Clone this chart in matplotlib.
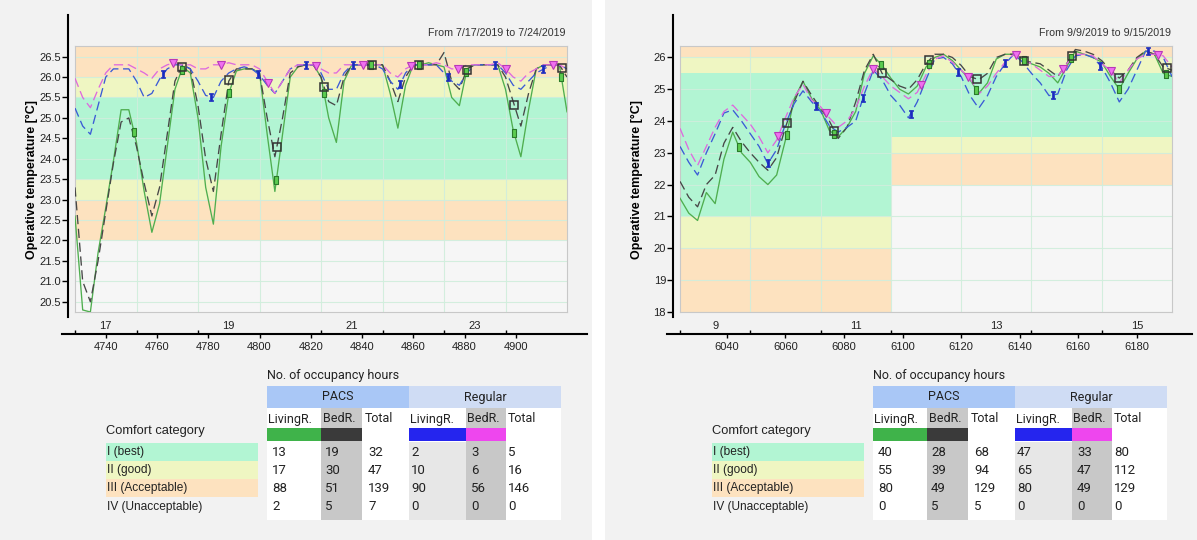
import numpy as np
import matplotlib.pyplot as plt
from matplotlib import transforms
from matplotlib.patches import Rectangle
from matplotlib.path import Path

plt.rcParams['font.family'] = ['Liberation Sans', 'DejaVu Sans']
TABLE_FONT = ['Roboto', 'DejaVu Sans']

W, H = 1197, 540

# ---------------- data ----------------
# July week (hour of year, 3-hourly readings)
jul_hours = np.arange(4728, 4921, 3)
jul_pacs_living = [22.6, 20.3, 20.25, 21.7, 22.8, 23.95, 25.2, 25.2, 24.4, 23.2,
                   22.2, 22.9, 24.3, 25.7, 26.25, 26.1, 25.0, 23.3, 22.4, 24.3,
                   25.6, 26.15, 26.2, 26.2, 26.1, 24.6, 23.2, 24.6, 26.0, 26.25,
                   26.3, 26.3, 26.0, 25.0, 24.4, 25.9, 26.3, 26.3, 26.3, 26.3,
                   26.3, 25.6, 24.75, 25.8, 26.3, 26.3, 26.35, 26.3, 26.25, 25.5,
                   25.3, 26.2, 26.3, 26.3, 26.3, 26.3, 25.7, 24.7, 24.05, 25.2,
                   26.2, 26.3, 26.3, 26.3, 25.15]
jul_pacs_bed = [23.3, 21.0, 20.5, 21.5, 22.7, 23.9, 24.9, 25.0, 24.3, 23.4,
                22.6, 23.3, 24.6, 25.9, 26.3, 26.2, 25.3, 24.0, 23.2, 24.6,
                25.9, 26.2, 26.2, 26.2, 26.1, 25.0, 24.05, 25.0, 26.1, 26.25,
                26.3, 26.3, 26.0, 25.4, 25.3, 26.0, 26.3, 26.3, 26.3, 26.3,
                26.3, 25.9, 25.4, 26.0, 26.3, 26.3, 26.3, 26.3, 26.6, 25.9,
                25.7, 26.2, 26.3, 26.3, 26.3, 26.3, 26.0, 25.4, 24.8, 25.6,
                26.2, 26.3, 26.3, 26.3, 26.0]
jul_reg_living = [25.24, 24.8, 24.6, 25.3, 26.0, 26.2, 26.2, 26.2, 25.9, 25.5,
                  25.6, 25.95, 26.2, 26.3, 26.3, 26.2, 25.9, 25.55, 25.5, 25.9,
                  26.1, 26.2, 26.25, 26.2, 26.05, 25.8, 25.6, 25.9, 26.2, 26.3,
                  26.3, 26.3, 26.1, 25.7, 25.7, 26.1, 26.3, 26.3, 26.3, 26.3,
                  26.2, 25.9, 25.7, 26.1, 26.3, 26.3, 26.3, 26.3, 26.1, 25.9,
                  25.8, 26.1, 26.3, 26.3, 26.3, 26.3, 26.1, 25.8, 25.7, 25.9,
                  26.1, 26.2, 26.3, 26.3, 26.2]
jul_reg_bed = [25.97, 25.5, 25.25, 25.7, 26.1, 26.3, 26.3, 26.3, 26.2, 26.1,
               25.97, 26.2, 26.3, 26.35, 26.3, 26.3, 26.2, 26.2, 26.3, 26.3,
               26.35, 26.3, 26.3, 26.3, 26.2, 25.9, 25.6, 25.9, 26.2, 26.3,
               26.3, 26.3, 26.2, 26.1, 26.1, 26.3, 26.3, 26.3, 26.3, 26.3,
               26.3, 26.1, 26.0, 26.2, 26.3, 26.3, 26.3, 26.35, 26.3, 26.2,
               26.2, 26.3, 26.3, 26.3, 26.3, 26.35, 26.2, 26.0, 25.9, 26.1,
               26.2, 26.3, 26.3, 26.3, 26.2]

# September week
sep_hours = np.arange(6024, 6193, 3)
sep_pacs_living = [21.57, 21.1, 20.87, 21.75, 21.4, 22.8, 23.65, 23.0, 22.7, 22.25,
                   22.0, 22.3, 23.4, 24.7, 25.25, 24.7, 24.35, 23.7, 23.5, 23.8,
                   24.3, 25.5, 26.05, 25.75, 25.35, 25.0, 24.85, 25.1, 25.7, 26.0,
                   26.1, 25.9, 25.6, 25.3, 24.87, 25.2, 25.95, 26.1, 26.1, 25.95,
                   25.8, 25.7, 25.5, 25.2, 25.7, 26.2, 26.1, 26.0, 25.85, 25.4,
                   25.0, 25.5, 25.95, 26.2, 26.1, 25.5, 25.4]
sep_pacs_bed = [22.1, 21.6, 21.3, 22.0, 22.3, 23.3, 23.8, 23.35, 23.0, 22.7,
                22.45, 22.85, 23.8, 24.6, 25.25, 24.8, 24.4, 24.0, 23.45, 23.8,
                24.6, 25.6, 26.1, 25.5, 25.3, 25.1, 25.0, 25.3, 25.8, 26.1,
                26.1, 26.0, 25.75, 25.4, 25.3, 25.5, 26.0, 26.1, 26.1, 25.9,
                25.85, 25.8, 25.6, 25.4, 25.8, 26.25, 26.2, 26.1, 25.9, 25.6,
                25.35, 25.6, 26.0, 26.2, 26.1, 25.7, 25.6]
sep_reg_living = [23.2, 22.7, 22.3, 23.0, 23.6, 24.25, 24.35, 24.0, 23.6, 23.2,
                  22.66, 23.1, 23.9, 24.55, 24.95, 24.6, 24.3, 23.85, 23.65, 23.8,
                  24.0, 24.87, 25.6, 25.3, 24.8, 24.5, 24.1, 24.6, 25.3, 25.95,
                  26.0, 25.8, 25.4, 24.8, 24.4, 24.8, 25.4, 25.8, 26.1, 25.85,
                  25.5, 25.2, 24.8, 24.85, 25.6, 26.05, 26.1, 26.0, 25.7, 25.2,
                  24.6, 25.0, 25.6, 26.2, 26.2, 26.0, 25.4]
sep_reg_bed = [23.77, 23.1, 22.6, 23.2, 23.8, 24.3, 24.5, 24.2, 23.9, 23.5,
               23.0, 23.4, 24.1, 24.75, 25.15, 24.65, 24.45, 24.1, 23.8, 24.0,
               24.4, 25.1, 25.65, 25.4, 25.1, 24.9, 24.7, 24.9, 25.45, 25.95,
               26.05, 25.85, 25.6, 25.35, 24.85, 25.1, 25.5, 25.85, 26.1, 25.95,
               25.8, 25.6, 25.4, 25.4, 25.8, 26.1, 26.1, 26.05, 25.8, 25.6,
               25.2, 25.6, 25.95, 26.1, 26.1, 26.05, 25.7]

# comfort bands: (from hour, to hour, [(low, high, category), ...])
jul_bands = [(4728, 4920, [(23.5, 25.5, 'I'), (23.0, 23.5, 'II'), (25.5, 26.0, 'II'),
                           (22.0, 23.0, 'III'), (26.0, 27.0, 'III')])]
sep_bands = [(6024, 6096, [(21.0, 25.5, 'I'), (20.0, 21.0, 'II'), (25.5, 26.0, 'II'),
                           (17.0, 20.0, 'III'), (26.0, 27.0, 'III')]),
             (6096, 6192, [(23.5, 25.5, 'I'), (23.0, 23.5, 'II'), (25.5, 26.0, 'II'),
                           (22.0, 23.0, 'III'), (26.0, 27.0, 'III')])]

jul_day_starts = [4728, 4752, 4776, 4800, 4824, 4848, 4872, 4896]
jul_day_labels = {4740: '17', 4788: '19', 4836: '21', 4884: '23'}
jul_hour_ticks = [4740, 4760, 4780, 4800, 4820, 4840, 4860, 4880, 4900]
sep_day_starts = [6024, 6048, 6072, 6096, 6120, 6144, 6168]
sep_day_labels = {6036: '9', 6084: '11', 6132: '13', 6180: '15'}
sep_hour_ticks = [6040, 6060, 6080, 6100, 6120, 6140, 6160, 6180]

jul_yticks = [20.5, 21.0, 21.5, 22.0, 22.5, 23.0, 23.5, 24.0, 24.5, 25.0, 25.5, 26.0, 26.5]
sep_yticks = [18, 19, 20, 21, 22, 23, 24, 25, 26]

categories = ['I (best)', 'II (good)', 'III (Acceptable)', 'IV (Unacceptable)']
jul_pacs_living_h = [13, 17, 88, 2]
jul_pacs_bed_h = [19, 30, 51, 5]
jul_pacs_total_h = [32, 47, 139, 7]
jul_reg_living_h = [2, 10, 90, 0]
jul_reg_bed_h = [3, 6, 56, 0]
jul_reg_total_h = [5, 16, 146, 0]
sep_pacs_living_h = [40, 55, 80, 0]
sep_pacs_bed_h = [28, 39, 49, 5]
sep_pacs_total_h = [68, 94, 129, 5]
sep_reg_living_h = [47, 65, 80, 0]
sep_reg_bed_h = [33, 47, 49, 0]
sep_reg_total_h = [80, 112, 129, 0]

# ---------------- style ----------------
band_colors = {'I': '#b2f5d3', 'II': '#eff6c2', 'III': '#fde2bf'}
green_mark = Path([(-0.55, -1), (0.55, -1), (0.55, 1), (-0.55, 1), (-0.55, -1)],
                  [Path.MOVETO, Path.LINETO, Path.LINETO, Path.LINETO, Path.CLOSEPOLY])
series_style = [
    # color, linestyle, marker kwargs, first marker (fraction of width)
    ('#4fae4f', '-', dict(marker=green_mark, ms=5.5, mfc='#5ccc50', mec='#2a7a2a', mew=0.8), 0.12),
    ('#474747', (0, (7, 3.5)), dict(marker='s', ms=5.5, mfc='none', mec='#333333', mew=1.1), 0.217),
    ('#3b5bd6', (0, (7, 3.5)), dict(marker='$\\mathtt{I}$', ms=5.5, mfc='#1a2ac0', mec='#1a2ac0', mew=0.5), 0.179),
    ('#de6ade', (0, (7, 3.5)), dict(marker='v', ms=5.5, mfc='#f070f0', mec='#b838b8', mew=0.8), 0.2),
]
MARK_STEP = 0.0965

fig = plt.figure(figsize=(W / 100, H / 100), dpi=100, facecolor='white')


def px_box(x0, y0, x1, y1):
    return [x0 / W, 1 - y1 / H, (x1 - x0) / W, (y1 - y0) / H]


bg = fig.add_axes([0, 0, 1, 1])
bg.set_xlim(0, W)
bg.set_ylim(H, 0)
bg.axis('off')
bg.add_patch(Rectangle((0, 0), 592, H, color='#f2f2f2', lw=0))
bg.add_patch(Rectangle((605, 0), 592, H, color='#f2f2f2', lw=0))


def draw_chart(dx, hours, series, ylim, yticks, yfmt, bands, day_starts, day_labels,
               hour_ticks, title):
    x0, x1 = hours[0], hours[-1]
    ax = fig.add_axes(px_box(dx + 75, 46, dx + 567, 312))
    ax.set_xlim(x0, x1)
    ax.set_ylim(*ylim)
    ax.set_facecolor('#f6f6f6')
    for s in ax.spines.values():
        s.set_color('#c8c8c8')
        s.set_linewidth(0.8)
    ax.set_xticks([])
    ax.set_yticks([])

    for b0, b1, spans in bands:
        for lo, hi, cat in spans:
            ax.fill_between([b0, b1], lo, hi, color=band_colors[cat], lw=0, zorder=0)
    for y in yticks:
        ax.axhline(y, color='#d0eedc', lw=0.8, alpha=0.9, zorder=1)
    for d in day_starts[1:]:
        ax.axvline(d, color='#d0eedc', lw=0.8, alpha=0.9, zorder=1)

    for vals, (col, ls, mk, first) in zip(series, series_style):
        ax.plot(hours, vals, color=col, ls=ls, lw=0.95, zorder=3)
        fr = np.arange(first, 1.0, MARK_STEP)
        mx = x0 + fr * (x1 - x0)
        my = np.interp(mx, hours, vals)
        ax.plot(mx, my, ls='none', zorder=4, **mk)

    # y axis, drawn a little left of the plot area
    k = (ylim[1] - ylim[0]) / 266.0
    ay = fig.add_axes(px_box(dx + 68, 15, dx + 69, 317))
    ay.set_ylim(ylim[0] - 5 * k, ylim[1] + 31 * k)
    ay.patch.set_visible(False)
    for n in ('top', 'right', 'bottom'):
        ay.spines[n].set_visible(False)
    ay.spines['left'].set_linewidth(1.5)
    ay.set_xticks([])
    ay.set_yticks(yticks)
    ay.set_yticklabels([yfmt.format(v) for v in yticks])
    ay.tick_params(axis='y', direction='out', length=4, width=1, labelsize=8,
                   pad=1, labelcolor='#222222')

    # x axis, drawn below the plot area
    ppx = 492.0 / (x1 - x0)
    axx = fig.add_axes(px_box(dx + 62, 333, dx + 587, 334))
    axx.set_xlim(x0 + (62 - 75) / ppx, x0 + (587 - 75) / ppx)
    axx.patch.set_visible(False)
    for n in ('top', 'right', 'left'):
        axx.spines[n].set_visible(False)
    axx.spines['bottom'].set_linewidth(1.5)
    axx.set_yticks([])
    axx.set_xticks(hour_ticks)
    axx.set_xticklabels([str(h) for h in hour_ticks])
    axx.set_xticks(day_starts, minor=True)
    axx.tick_params(which='major', direction='out', length=3, width=1,
                    labelsize=8, pad=3, labelcolor='#222222')
    axx.tick_params(which='minor', direction='in', length=3, width=1)
    tr = transforms.offset_copy(axx.get_xaxis_transform(), fig=fig, y=2.5, units='points')
    for h, lab in day_labels.items():
        axx.text(h, 0, lab, transform=tr, ha='center', va='bottom', fontsize=8,
                 color='#222222')

    fig.text((dx + 566) / W, 1 - 33 / H, title, ha='right', va='center',
             fontsize=7.7, color='#333333')
    fig.text((dx + 32) / W, 1 - 180 / H, 'Operative temperature [°C]', rotation=90,
             ha='center', va='center', fontsize=9, fontweight='bold')


def draw_table(dx, pacs_living, pacs_bed, pacs_total, reg_living, reg_bed, reg_total):
    cols = [c + dx for c in (267, 321, 362, 409, 466, 506, 561)]
    bg.text(cols[0], 375, 'No. of occupancy hours', ha='left', va='center',
            fontsize=9, family=TABLE_FONT, color='#222222')
    bg.add_patch(Rectangle((cols[0], 386), cols[3] - cols[0], 22, color='#a9c7f6', lw=0))
    bg.add_patch(Rectangle((cols[3], 386), cols[6] - cols[3], 22, color='#cfdcf4', lw=0))
    bg.text((cols[0] + cols[3]) / 2, 397, 'PACS', ha='center', va='center',
            fontsize=9, family=TABLE_FONT, color='#222222')
    bg.text((cols[3] + cols[6]) / 2, 397, 'Regular', ha='center', va='center',
            fontsize=9, family=TABLE_FONT, color='#222222')
    bg.add_patch(Rectangle((cols[0], 408), cols[6] - cols[0], 112, color='white', lw=0))
    for c in (1, 4):
        bg.add_patch(Rectangle((cols[c], 408), cols[c + 1] - cols[c], 112, color='#c8c8c8', lw=0))
    bg.add_patch(Rectangle((cols[3], 442), cols[4] - cols[3], 78, color='#e7e7e7', lw=0))
    for c, colr in zip((0, 1, 3, 4), ('#3fb34a', '#3a3a3a', '#2525ee', '#ee46ee')):
        bg.add_patch(Rectangle((cols[c], 428), cols[c + 1] - cols[c], 13, color=colr, lw=0))

    heads = ['LivingR.', 'BedR.', 'Total', 'LivingR.', 'BedR.', 'Total']
    head_off = [1, 2, 3, 1, 1, 2]
    for i, t in enumerate(heads):
        bg.text(cols[i] + head_off[i], 419, t, ha='left', va='center', fontsize=9,
                family=TABLE_FONT, color='#222222')

    row_y = [452, 470, 488, 507]
    bg.text(dx + 106, 431, 'Comfort category', ha='left', va='center', fontsize=9.3,
            color='#222222')
    cat_fill = [band_colors['I'], band_colors['II'], band_colors['III'], None]
    for r, (cat, fill) in enumerate(zip(categories, cat_fill)):
        if fill:
            bg.add_patch(Rectangle((dx + 106, row_y[r] - 9), 152, 18, color=fill, lw=0))
        bg.text(dx + 107, row_y[r], cat, ha='left', va='center', fontsize=8.6,
                color='#222222')

    num_off = [5, 4, 6, 2, 5, 2]
    columns = [pacs_living, pacs_bed, pacs_total, reg_living, reg_bed, reg_total]
    for i, colvals in enumerate(columns):
        for r, v in enumerate(colvals):
            bg.text(cols[i] + num_off[i], row_y[r], str(v), ha='left', va='center',
                    fontsize=9.5, family=TABLE_FONT, color='#222222')


draw_chart(0, jul_hours, [jul_pacs_living, jul_pacs_bed, jul_reg_living, jul_reg_bed],
           (20.25, 26.76), jul_yticks, '{:.1f}', jul_bands, jul_day_starts,
           jul_day_labels, jul_hour_ticks, 'From 7/17/2019 to 7/24/2019')
draw_chart(605, sep_hours, [sep_pacs_living, sep_pacs_bed, sep_reg_living, sep_reg_bed],
           (17.99, 26.36), sep_yticks, '{:d}', sep_bands, sep_day_starts,
           sep_day_labels, sep_hour_ticks, 'From 9/9/2019 to 9/15/2019')

draw_table(0, jul_pacs_living_h, jul_pacs_bed_h, jul_pacs_total_h,
           jul_reg_living_h, jul_reg_bed_h, jul_reg_total_h)
draw_table(606, sep_pacs_living_h, sep_pacs_bed_h, sep_pacs_total_h,
           sep_reg_living_h, sep_reg_bed_h, sep_reg_total_h)

fig.savefig('out.png', dpi=100, facecolor=fig.get_facecolor())
